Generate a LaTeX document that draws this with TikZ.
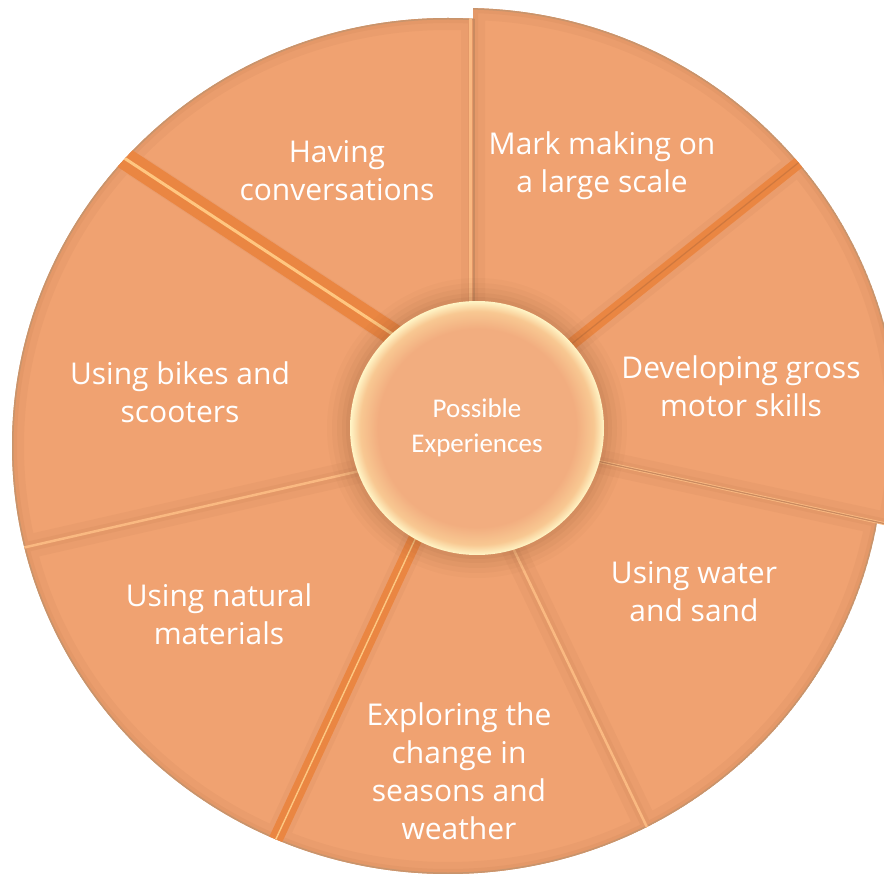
\documentclass[tikz,border=0pt]{standalone}
\usepackage{fontspec}
\newfontfamily\lblfont{Open Sans}
\newfontfamily\hubfont{Carlito}
\definecolor{slicefill}{HTML}{F0A271}
\definecolor{slicedark}{HTML}{B9764C}
\definecolor{rimline}{HTML}{C8946C}
\definecolor{groove}{HTML}{EA8642}
\definecolor{groovelight}{HTML}{FFC680}
\definecolor{groovedark}{HTML}{CF783E}
\definecolor{seamlight}{HTML}{FAB981}
\definecolor{seamdark}{HTML}{C98A60}
\definecolor{hubfill}{HTML}{F2AD7F}
\definecolor{hubmid}{HTML}{F8C892}
\definecolor{hubrim}{HTML}{FFF5C6}
\definecolor{hubshadow}{HTML}{8A5533}
\pgfdeclareradialshading{hubglow}{\pgfpoint{0bp}{0bp}}{color(0bp)=(hubfill); color(19.5bp)=(hubfill); color(23bp)=(hubmid); color(25bp)=(hubrim); color(50bp)=(hubrim)}

% one bevelled slice: inner/outer point of first edge, outer/inner point of second edge, rim centre
\newcommand\drawslice[5]{%
  \begin{scope}
    \clip (H) -- (#1) -- (#2) -- (#3) -- (#4) -- cycle;
    \clip (#5) ellipse [x radius=436, y radius=428];
    \fill[slicefill] (#5) ellipse [x radius=436, y radius=428];
    \draw[slicedark, opacity=.10, line width=24pt]
      (#5) ellipse [x radius=436, y radius=428] (H) -- (#1) -- (#2) (#3) -- (#4) -- (H);
    \draw[slicedark, opacity=.12, line width=10pt]
      (#5) ellipse [x radius=436, y radius=428] (H) -- (#1) -- (#2) (#3) -- (#4) -- (H);
    \draw[rimline, line width=3pt] (#5) ellipse [x radius=436, y radius=428];
  \end{scope}}

\begin{document}
\begin{tikzpicture}[x=1pt, y=-1pt,
  lbl/.style={text=white, align=center, inner sep=0pt,
    font=\lblfont\fontsize{30}{38}\selectfont},
  hublbl/.style={text=white, align=center, inner sep=0pt,
    font=\hubfont\fontsize{27}{35}\selectfont}]

\fill[white] (0,0) rectangle (884,874);
\useasboundingbox (0,0) rectangle (884,874);
\clip (0,0) rectangle (884,874);

% hub centre and rim centres
\coordinate (H)  at (477,428);
\coordinate (E0) at (448,446);
\coordinate (E1) at (463,436);

% slice edges: inner end (under the hub) and far outer end
\coordinate (Ai) at (473,330);  \coordinate (Ao) at (473,-270);
\coordinate (Bi) at (554,358);  \coordinate (Bo) at (1046,-35);
\coordinate (Ci) at (574,456);  \coordinate (Co) at (1189,590);
\coordinate (Di) at (500,521);  \coordinate (Do) at (777,1098);
\coordinate (Ei) at (424,520);  \coordinate (Eo) at (159,1091);
\coordinate (Fi) at (386,465);  \coordinate (Fo) at (-228,605);
\coordinate (Gi) at (412,347);  \coordinate (Go) at (-115,1);

% the seven slices
\drawslice{Ai}{Ao}{Bo}{Bi}{E1}
\drawslice{Bi}{Bo}{Co}{Ci}{E1}
\drawslice{Ci}{Co}{Do}{Di}{E0}
\drawslice{Di}{Do}{Eo}{Ei}{E0}
\drawslice{Ei}{Eo}{Fo}{Fi}{E0}
\drawslice{Fi}{Fo}{Go}{Gi}{E0}
\drawslice{Gi}{Go}{Ao}{Ai}{E0}

% wide grooves between slices
\begin{scope}
  \clip (E0) ellipse [x radius=436, y radius=428];
  \draw[groove, line width=22pt] (Gi) -- (Go);
  \draw[groovedark, line width=2pt, shift={(6.0,-9.1)}] (Gi) -- (Go);
  \draw[groovelight, line width=3pt, shift={(-5.8,8.8)}] (Gi) -- (Go);
  \draw[groove, line width=14pt] (Ei) -- (Eo);
  \draw[groovedark, line width=1.2pt, shift={(-6.3,-2.9)}] (Ei) -- (Eo);
  \draw[groovelight, line width=1.5pt, shift={(6.3,2.9)}] (Ei) -- (Eo);
  % thin seams
  \draw[seamlight, line width=3pt] (470,330) -- (470,-270);
  \draw[seamdark, line width=1.2pt] (474,330) -- (474,-270);
  \draw[seamdark, line width=1.2pt, shift={(0,-2)}] (Fi) -- (Fo);
  \draw[seamlight, line width=2.5pt, shift={(0,1.5)}] (Fi) -- (Fo);
  \draw[seamdark, line width=1.2pt, shift={(-1.5,0.5)}] (Di) -- (Do);
  \draw[seamlight, line width=2.5pt, shift={(1.5,-0.5)}] (Di) -- (Do);
\end{scope}
\begin{scope}
  \clip (E1) ellipse [x radius=436, y radius=428];
  \draw[groove, line width=12pt] (Bi) -- (Bo);
  \draw[groovedark, line width=1.2pt, shift={(-3.7,-4.7)}] (Bi) -- (Bo);
  \draw[seamlight, line width=3pt, shift={(0,-1.5)}] (Ci) -- (Co);
  \draw[seamdark, line width=1.2pt, shift={(0,2)}] (Ci) -- (Co);
\end{scope}

% soft shadow under the hub
\foreach \r/\o in {150/0.035, 145/0.045, 140/0.055, 135/0.065, 131/0.08}
  \fill[hubshadow, opacity=\o, shift={(6,9)}] (H) circle (\r);

% hub
\shade[shading=hubglow] (H) circle (127);
\node[hublbl] (hub) at (477,428) {Possible\\Experiences};

% slice labels
\node[lbl] (having)  at (337,171) {Having\\conversations};
\node[lbl] (mark)    at (602,166) {Mark making on\\a large scale};
\node[lbl] (gross)   at (741,386) {Developing gross\\motor skills};
\node[lbl] (water)   at (694,592) {Using water\\and sand};
\node[lbl] (seasons) at (459,771) {Exploring the\\change in\\seasons and\\weather};
\node[lbl] (natural) at (219,614) {Using natural\\materials};
\node[lbl] (bikes)   at (180,392) {Using bikes and\\scooters};
\end{tikzpicture}
\end{document}
